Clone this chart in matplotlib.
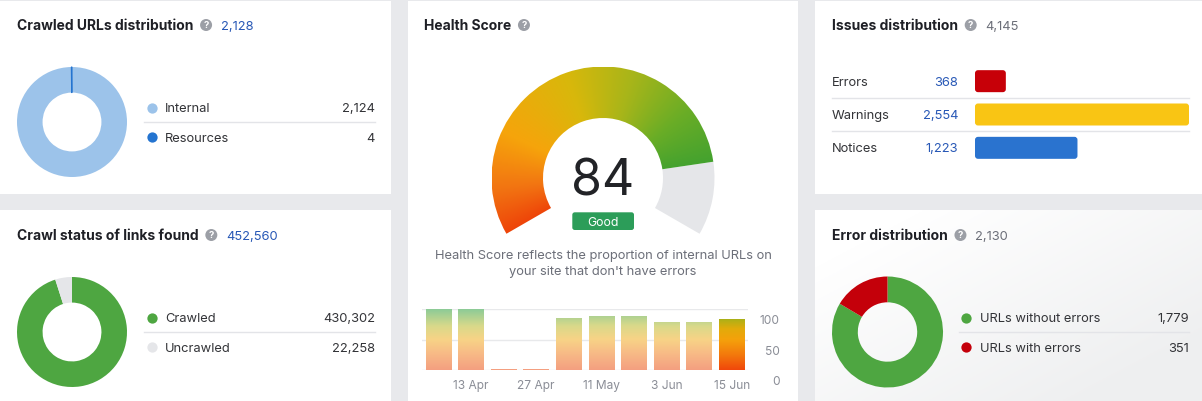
import numpy as np
import matplotlib
matplotlib.use("Agg")
import matplotlib.pyplot as plt
from matplotlib.patches import Rectangle, FancyBboxPatch, Circle
from matplotlib.colors import LinearSegmentedColormap
from matplotlib.transforms import blended_transform_factory, ScaledTranslation

# ---------------- data ----------------
crawled_labels = ["Internal", "Resources"]
crawled_values = [2124, 4]
crawled_total = 2128

links_labels = ["Crawled", "Uncrawled"]
links_values = [430302, 22258]
links_total = 452560

health_score = 84
health_max = 100
hist_dates = ["", "13 Apr", "", "27 Apr", "", "11 May", "", "3 Jun", "", "15 Jun"]
hist_scores = [100, 100, 2, 2, 85, 89, 89, 79, 79, 84]
hist_ticks = [0, 50, 100]

issue_labels = ["Errors", "Warnings", "Notices"]
issue_values = [368, 2554, 1223]
issue_total = 4145

err_labels = ["URLs without errors", "URLs with errors"]
err_values = [1779, 351]
err_total = 2130

# ---------------- style ----------------
plt.rcParams['font.family'] = ['Inter', 'DejaVu Sans']
W, H, DPI = 1202, 401, 100
BG = '#e8e9ec'
TITLE_C = '#1f2026'
TEXT_C = '#333438'
GRAY_C = '#6c6f79'
BLUE = '#2858b6'
SEP = '#e3e4e8'
TS = 10.0      # title size (pt)
BS = 9.3       # body size (pt)
DY = 1.5       # visual centring correction for text (px)

fig = plt.figure(figsize=(W / DPI, H / DPI), dpi=DPI, facecolor=BG)
bg = fig.add_axes([0, 0, 1, 1])
bg.set_xlim(0, W)
bg.set_ylim(H, 0)
bg.axis('off')
bg.set_zorder(0)


def ax_px(x0, y0, x1, y1):
    a = fig.add_axes([x0 / W, 1 - y1 / H, (x1 - x0) / W, (y1 - y0) / H])
    a.patch.set_alpha(0)
    return a


# panels
panels = [(0, 1, 391, 194), (0, 210, 391, 402), (408, 1, 798, 402),
          (815, 1, 1203, 194), (815, 210, 1203, 402)]
panel_patches = []
for (x0, y0, x1, y1) in panels:
    p = Rectangle((x0, y0), x1 - x0, y1 - y0, fc='white', ec='none')
    bg.add_patch(p)
    panel_patches.append(p)

# subtle shading on bottom-right panel
xs = np.linspace(815, 1202, 200)
ys = np.linspace(210, 401, 100)
XX, YY = np.meshgrid(xs, ys)
s = np.clip(((XX - 880) / 322) * 0.6 + ((YY - 230) / 171) * 0.6, 0, 1)
shade = np.zeros(XX.shape + (4,))
shade[..., 0] = 0.87
shade[..., 1] = 0.875
shade[..., 2] = 0.885
shade[..., 3] = 0.5 * s
im = bg.imshow(shade, extent=[815, 1202, 401, 210], origin='upper', aspect='auto', zorder=1)
im.set_clip_path(panel_patches[4])
bg.set_xlim(0, W)
bg.set_ylim(H, 0)

renderer = fig.canvas.get_renderer()


def title(x, y, text, number=None, num_color=BLUE):
    t = bg.text(x, y + DY, text, fontsize=TS, fontweight='bold', color=TITLE_C,
                ha='left', va='center', zorder=3)
    bb = t.get_window_extent(renderer)
    right = bb.x1
    cx = right + 12.7
    bg.add_patch(Circle((cx, y), 6, fc='#9c9fa6', ec='none', zorder=3))
    bg.text(cx, y + 0.8, '?', color='white', fontsize=6.8, fontweight='bold',
            ha='center', va='center', zorder=4)
    if number is not None:
        bg.text(right + 27.5, y + DY, number, fontsize=BS, color=num_color,
                ha='left', va='center', zorder=3)


def donut(cx, cy, r, values, colors, width=0.465):
    a = ax_px(cx - r, cy - r, cx + r, cy + r)
    wedges, _ = a.pie(values, colors=colors, startangle=90, counterclock=False,
                      radius=1, wedgeprops=dict(width=width, linewidth=0))
    a.set_xlim(-1, 1)
    a.set_ylim(-1, 1)
    a.set_aspect('equal')
    a.axis('off')
    return a, wedges


def legend_rows(x_dot, x_text, x_val, x_sep0, ys, labels, values, colors, sep_y):
    for yy, lab, v, c in zip(ys, labels, values, colors):
        bg.plot([x_dot], [yy], 'o', ms=7.4, color=c, mec='none', zorder=3)
        bg.text(x_text, yy + DY, lab, fontsize=BS, color=TEXT_C, ha='left', va='center', zorder=3)
        bg.text(x_val, yy + DY, f"{v:,}", fontsize=BS, color=TEXT_C, ha='right', va='center', zorder=3)
    bg.plot([x_sep0, x_val], [sep_y, sep_y], color=SEP, lw=1, zorder=2)


# ---------------- Panel 1: Crawled URLs distribution ----------------
title(17, 25, "Crawled URLs distribution", f"{crawled_total:,}")
c1 = ['#9cc3ea', '#2474d0']
a1, w1 = donut(72, 122, 55, crawled_values, c1)
w1[1].set_edgecolor(c1[1])
w1[1].set_linewidth(0.8)
legend_rows(152, 165, 375, 144, [108, 137], crawled_labels, crawled_values, c1, 122)

# ---------------- Panel 2: Crawl status ----------------
title(17, 235, "Crawl status of links found", f"{links_total:,}")
c2 = ['#4ea641', '#e5e6e9']
donut(72, 332, 55, links_values, c2)
legend_rows(152, 165, 375, 144, [318, 347], links_labels, links_values, c2, 332)

# ---------------- Panel 3: Health score ----------------
title(424, 25, "Health Score")

gauge_span = 240.0
gauge_start = 210.0
gap = health_max * (360.0 - gauge_span) / gauge_span
gcx, gcy, gR = 603, 178, 111.5
ga = ax_px(gcx - gR, gcy - gR, gcx + gR, gcy + gR)
gw, _ = ga.pie([health_score, health_max - health_score, gap],
               colors=['none', '#e5e6e9', 'none'], startangle=gauge_start,
               counterclock=False, radius=1,
               wedgeprops=dict(width=(111.5 - 60) / 111.5, linewidth=0))
gw[2].set_visible(False)
gauge_cmap = LinearSegmentedColormap.from_list('g', [
    (0.0, '#ee4409'), (0.12, '#f27412'), (0.27, '#f6a40b'), (0.5, '#d8b80b'),
    (0.68, '#a6b51a'), (0.85, '#6aad26'), (1.0, '#44a22f')])
N = 500
gx = np.linspace(-1, 1, N)
GX, GY = np.meshgrid(gx, gx)
th = np.degrees(np.arctan2(GY, GX))
th = np.where(th < gauge_start - 360, th + 360, th)
tt = (gauge_start - th) / (gauge_span * health_score / health_max)
rgb = gauge_cmap(np.clip(tt, 0, 1))
gim = ga.imshow(rgb, extent=[-1, 1, -1, 1], origin='lower', zorder=1)
gim.set_clip_path(gw[0])
ga.set_xlim(-1, 1)
ga.set_ylim(-1, 1)
ga.set_aspect('equal')
ga.axis('off')

bg.text(603, 195.5, f"{health_score}", fontsize=36, fontweight='normal', color='#222327',
        ha='center', va='baseline', zorder=5)
bg.add_patch(FancyBboxPatch((572.3, 212.3), 61.7, 17.7,
                            boxstyle='round,pad=0,rounding_size=2.5',
                            fc='#2c9d59', ec='none', zorder=5))
bg.text(603, 221.5 + DY * 0.7, "Good", fontsize=8.8, color='white', ha='center', va='center', zorder=6)
bg.text(603, 255 + DY, "Health Score reflects the proportion of internal URLs on",
        fontsize=BS, color=GRAY_C, ha='center', va='center', zorder=5)
bg.text(603, 271 + DY, "your site that don't have errors",
        fontsize=BS, color=GRAY_C, ha='center', va='center', zorder=5)

# history bars
ha_ = ax_px(422, 309.3, 748, 370)
bars = ha_.bar(range(len(hist_scores)), hist_scores, width=0.78, linewidth=0)
pale = LinearSegmentedColormap.from_list('p', [
    (0.0, '#f49f80'), (0.25, '#f7b886'), (0.5, '#f8d386'), (0.72, '#d9d98a'),
    (1.0, '#8ccb97')])
sat = LinearSegmentedColormap.from_list('s', [
    (0.0, '#f0470b'), (0.25, '#f3790d'), (0.5, '#f5a10b'), (0.68, '#e2ab0a'),
    (0.82, '#b3b016'), (1.0, '#4aa42f')])
grad = np.linspace(0, 1, 256).reshape(-1, 1)
for i, b in enumerate(bars):
    cm = sat if i == len(bars) - 1 else pale
    bi = ha_.imshow(grad, extent=[b.get_x(), b.get_x() + b.get_width(), 0, health_max],
                    origin='lower', aspect='auto', cmap=cm, zorder=3)
    bi.set_clip_path(b)
    b.set_facecolor('none')
ha_.set_xlim(-0.5, len(hist_scores) - 0.5)
ha_.set_ylim(0, health_max)
ha_.set_yticks(hist_ticks)
ha_.set_yticklabels([])
ha_.grid(axis='y', color='#e8e9eb', lw=1, zorder=0)
ha_.set_axisbelow(True)
for sp in ha_.spines.values():
    sp.set_visible(False)
ha_.set_xticks(range(len(hist_dates)))
ha_.set_xticklabels(hist_dates, fontsize=8.6, color='#8a8d96')
ha_.tick_params(axis='both', length=0)
ha_.tick_params(axis='x', pad=7.4)
ytr = blended_transform_factory(ha_.transAxes, ha_.transData) + \
    ScaledTranslation(32 / DPI, -12.0 / DPI, fig.dpi_scale_trans)
for v in hist_ticks:
    ha_.text(1.0, v, f"{v}", transform=ytr, fontsize=8.6, color='#8a8d96',
             ha='right', va='center', clip_on=False)

# ---------------- Panel 4: Issues distribution ----------------
title(832, 25, "Issues distribution", f"{issue_total:,}", num_color=GRAY_C)
ia = ax_px(975, 64.5, 1189, 164.5)
icol = ['#c70008', '#f9c514', '#2a73cf']
ibars = ia.barh(range(len(issue_values)), issue_values, height=0.66, linewidth=0)
ia.set_xlim(0, max(issue_values))
ia.set_ylim(len(issue_values) - 0.5, -0.5)
ia.axis('off')
xu = max(issue_values) / (1189 - 975)
yu = len(issue_values) / 100.0
rs = 3 * xu
for b, c in zip(ibars, icol):
    b.set_visible(False)
    ia.add_patch(FancyBboxPatch((b.get_x(), b.get_y()), b.get_width(), b.get_height(),
                                boxstyle=f'round,pad=0,rounding_size={rs}',
                                mutation_aspect=(3 * yu) / rs, fc=c, ec='none'))
iy = [81, 114.5, 148]
for yy, lab, v in zip(iy, issue_labels, issue_values):
    bg.text(832, yy + DY, lab, fontsize=BS, color=TEXT_C, ha='left', va='center', zorder=3)
    bg.text(958, yy + DY, f"{v:,}", fontsize=BS, color=BLUE, ha='right', va='center', zorder=3)
for sy in [97.5, 130.5]:
    bg.plot([832, 1189], [sy, sy], color=SEP, lw=1, zorder=2)

# ---------------- Panel 5: Error distribution ----------------
title(832, 235, "Error distribution", f"{err_total:,}", num_color=GRAY_C)
c5 = ['#4ea641', '#c4000a']
donut(887.5, 332, 55.5, err_values, c5)
legend_rows(966, 980, 1189, 959, [318, 347], err_labels, err_values, c5, 332)

fig.savefig('out.png', dpi=DPI, facecolor=BG)
